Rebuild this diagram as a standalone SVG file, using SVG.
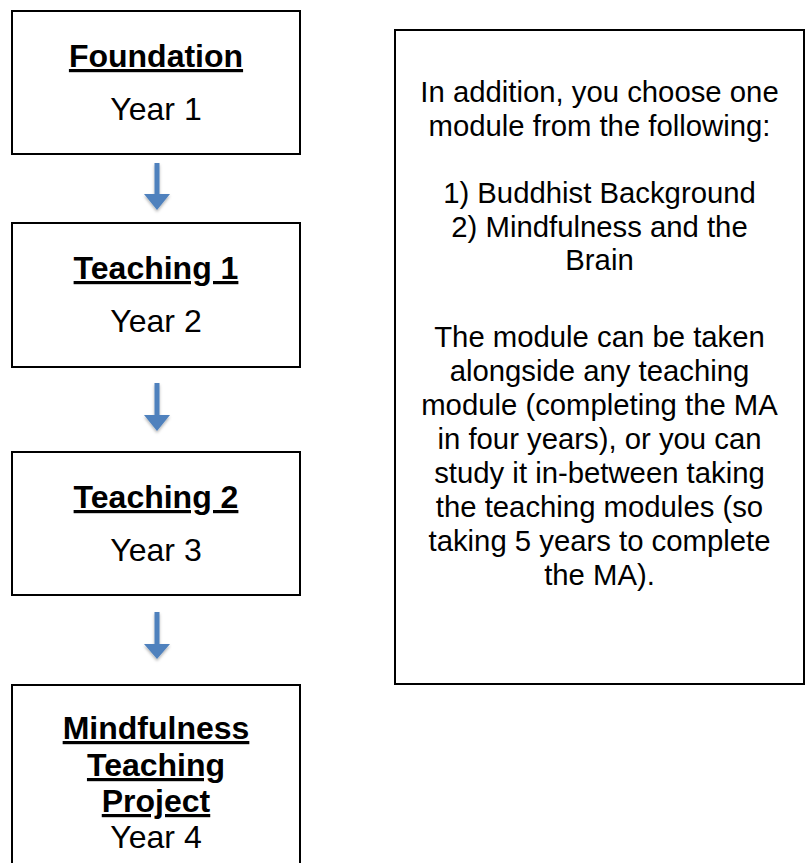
<svg xmlns="http://www.w3.org/2000/svg" width="806" height="863" viewBox="0 0 806 863">
<style>
.box{fill:#fff;stroke:#000;stroke-width:2}
.t{font-family:"Liberation Sans",Arial,sans-serif;fill:#000;text-anchor:middle}
.h{font-size:32px;font-weight:bold;text-decoration:underline}
.y{font-size:32px}
.r{font-size:29.3px}
.arr{fill:#4F81BD}
</style>
<defs>
<filter id="sh" x="-50%" y="-50%" width="200%" height="200%">
<feDropShadow dx="0" dy="2" stdDeviation="1.5" flood-color="#000" flood-opacity="0.3"/>
</filter>
</defs>
<rect width="806" height="863" fill="#fff"/>
<g id="connectors">
<path class="arr" filter="url(#sh)" d="M154.5 163H159.5V194H170L157 210L144 194H154.5Z"/>
<path class="arr" filter="url(#sh)" d="M154.5 383H159.5V415H170L157 431L144 415H154.5Z"/>
<path class="arr" filter="url(#sh)" d="M154.5 612H159.5V644H170L157 659L144 644H154.5Z"/>
</g>
<g id="foundation">
<rect class="box" x="12" y="11" width="288" height="143"/>
<text class="t h" x="156" y="67">Foundation</text>
<text class="t y" x="156" y="120">Year 1</text>
</g>
<g id="teaching1">
<rect class="box" x="12" y="223" width="288" height="144"/>
<text class="t h" x="156" y="279">Teaching 1</text>
<text class="t y" x="156" y="332">Year 2</text>
</g>
<g id="teaching2">
<rect class="box" x="12" y="452" width="288" height="143"/>
<text class="t h" x="156" y="508">Teaching 2</text>
<text class="t y" x="156" y="561">Year 3</text>
</g>
<g id="project">
<rect class="box" x="12" y="685" width="288" height="220"/>
<text class="t h" x="156" y="739">Mindfulness</text>
<text class="t h" x="156" y="776">Teaching</text>
<text class="t h" x="156" y="812">Project</text>
<text class="t y" x="156" y="848">Year 4</text>
</g>
<g id="options">
<rect class="box" x="395" y="30" width="409" height="654"/>
<text class="t r" x="599.5" y="102">In addition, you choose one</text>
<text class="t r" x="599.5" y="136">module from the following:</text>
<text class="t r" x="599.5" y="203">1) Buddhist Background</text>
<text class="t r" x="599.5" y="237">2) Mindfulness and the</text>
<text class="t r" x="599.5" y="270">Brain</text>
<text class="t r" x="599.5" y="347">The module can be taken</text>
<text class="t r" x="599.5" y="381">alongside any teaching</text>
<text class="t r" x="599.5" y="415">module (completing the MA</text>
<text class="t r" x="599.5" y="449">in four years), or you can</text>
<text class="t r" x="599.5" y="483">study it in-between taking</text>
<text class="t r" x="599.5" y="517">the teaching modules (so</text>
<text class="t r" x="599.5" y="551">taking 5 years to complete</text>
<text class="t r" x="599.5" y="585">the MA).</text>
</g>
</svg>
